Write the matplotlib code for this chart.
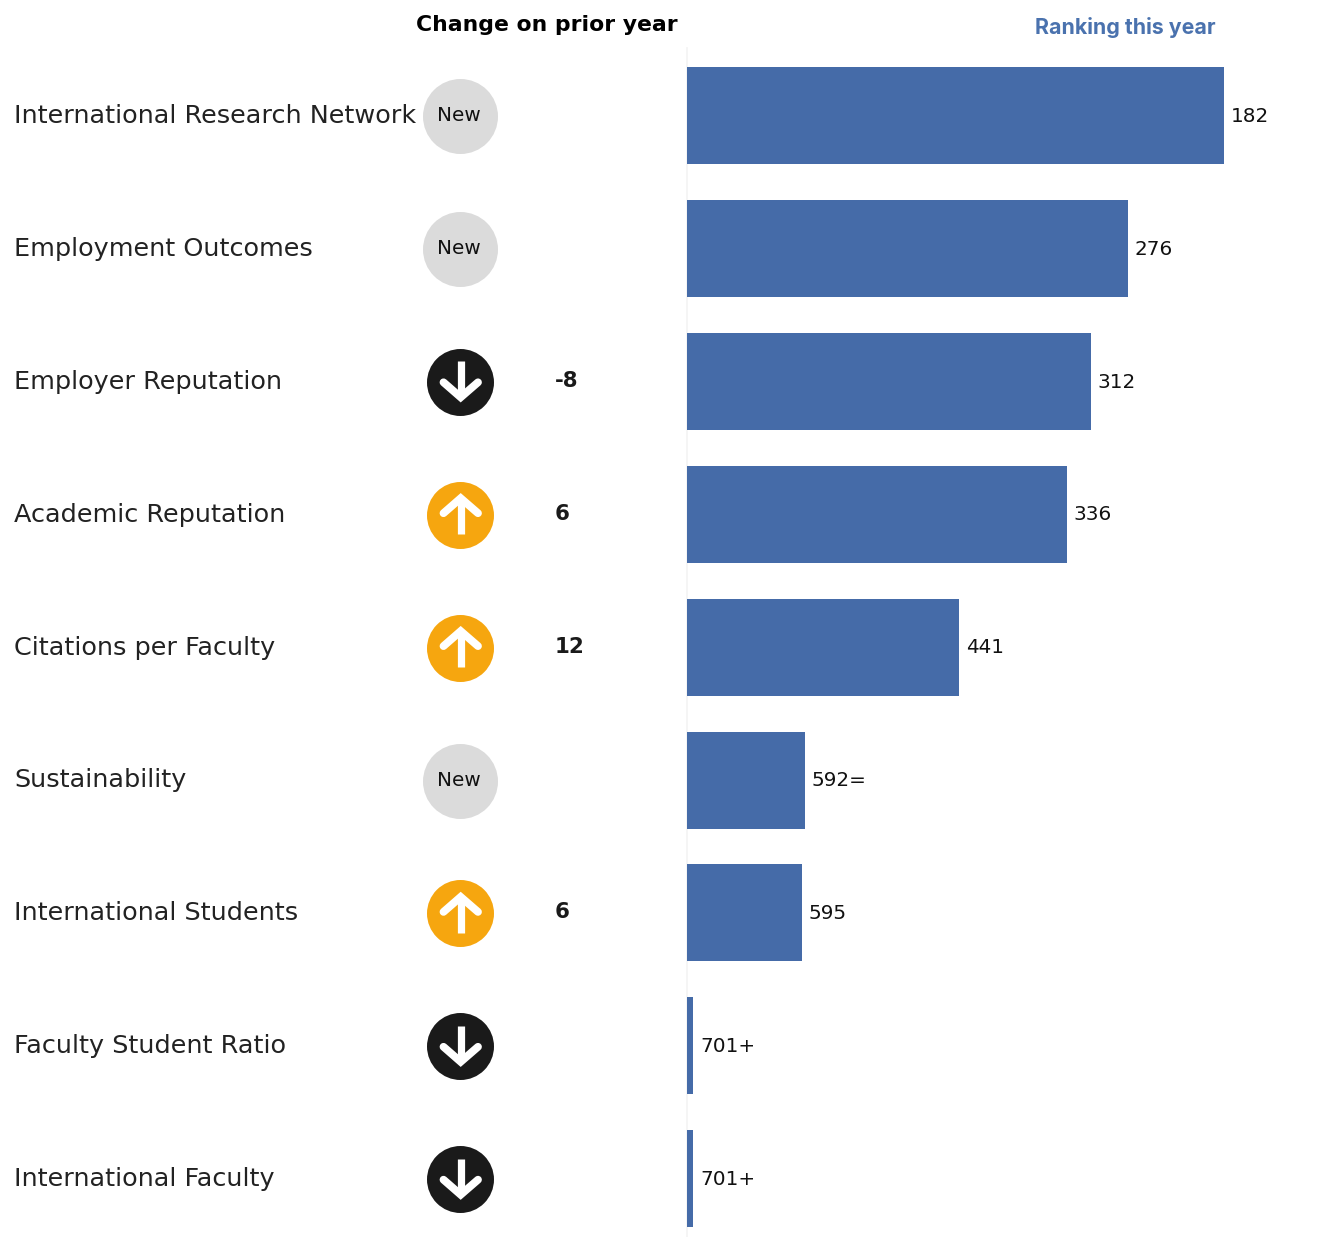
import matplotlib
matplotlib.use("Agg")
import matplotlib.pyplot as plt

categories = ["International Research Network", "Employment Outcomes", "Employer Reputation",
              "Academic Reputation", "Citations per Faculty", "Sustainability",
              "International Students", "Faculty Student Ratio", "International Faculty"]
ranks = [182, 276, 312, 336, 441, 592, 595, 701, 701]
rank_labels = ["182", "276", "312", "336", "441", "592=", "595", "701+", "701+"]
status = ["new", "new", "down", "up", "up", "new", "up", "down", "down"]
changes = ["", "", "-8", "6", "12", "", "6", "", ""]

W, H = 1326, 1237
AXIS_X = 687.3
BASE_RANK = 707
PX_PER_RANK = 1.023
ROW0, STEP = 115.5, 132.9
BAR_H = 97
BLUE, ORANGE, BLACK, GREY = "#456BA8", "#F6A60F", "#1A1A1A", "#DBDBDB"

fig = plt.figure(figsize=(W / 100, H / 100), dpi=100, facecolor="white")

# overlay in pixel coordinates for labels and icons
ov = fig.add_axes([0, 0, 1, 1])
ov.set_xlim(0, W)
ov.set_ylim(H, 0)
ov.axis("off")

# bars: ranking axis runs right-to-left, so better ranks are longer
ax = fig.add_axes([AXIS_X / W, 0, 1 - AXIS_X / W, 1], facecolor="none")
ax.set_xlim(BASE_RANK, BASE_RANK - (W - AXIS_X) / PX_PER_RANK)
ax.set_ylim(H, 0)
ax.axis("off")

ov.plot([AXIS_X, AXIS_X], [48, H], color="#F3F3F3", lw=1.2, zorder=1)

for i, (cat, rank, lab, st, ch) in enumerate(zip(categories, ranks, rank_labels, status, changes)):
    y = ROW0 + STEP * i
    ax.barh(y, rank - BASE_RANK, left=BASE_RANK, height=BAR_H, color=BLUE, zorder=2)
    ax.annotate(lab, (rank, y), xytext=(6.5, -0.7), textcoords="offset pixels",
                va="center", ha="left", fontsize=14.4, color="#111111")
    ov.text(14, y + 0.5, cat, va="center", ha="left", fontsize=18.35, color="#222222")
    cx = 460
    if st == "new":
        ov.scatter([cx], [y + 0.5], s=(75 * 0.72) ** 2, color=GREY, linewidths=0, zorder=3)
        ov.text(cx - 1.5, y, "New", va="center", ha="center", fontsize=14.4, color="#111111", zorder=4)
    else:
        col = ORANGE if st == "up" else BLACK
        s = -1 if st == "up" else 1
        ov.scatter([cx], [y + 0.5], s=(67 * 0.72) ** 2, color=col, linewidths=0, zorder=3)
        ov.plot([cx + 0.7, cx + 0.7], [y - 20 * s, y + 15 * s], color="white", lw=5.2, solid_capstyle="butt", zorder=4)
        ov.plot([cx - 16.5, cx + 0.7, cx + 18], [y + 1 * s, y + 16 * s, y + 1 * s], color="white", lw=5.6,
                solid_joinstyle="miter", solid_capstyle="round", zorder=4)
    if ch:
        ov.text(555, y - 0.5, ch, va="center", ha="left", fontsize=15.4, fontweight="bold", color="#1A1A1A")

ov.text(416, 25, "Change on prior year", va="center", ha="left", fontsize=15.75, fontweight="bold", color="#000000")
ov.text(1035, 27, "Ranking this year", va="center", ha="left", fontsize=15.35, fontweight="bold",
        family="Inter", color="#4A72AE")

fig.savefig("out.png", dpi=100)
